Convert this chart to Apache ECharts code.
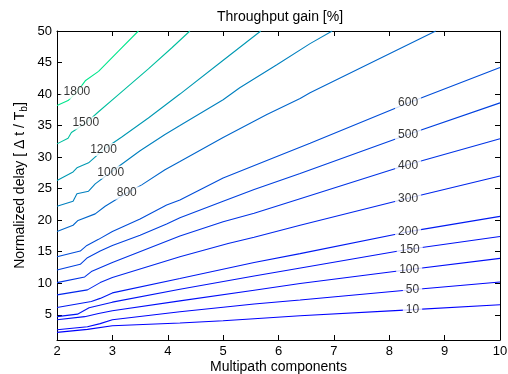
<!DOCTYPE html>
<html><head><meta charset="utf-8">
<script src="https://cdn.jsdelivr.net/npm/echarts@6/dist/echarts.min.js"></script>
<style>html,body{margin:0;padding:0;background:#fff}#c{width:508px;height:374px}</style>
</head><body><div id="c"></div>
<script>
// Contour levels (Throughput gain [%])
const levels = [10, 50, 100, 150, 200, 300, 400, 500, 600, 800, 1000, 1200, 1500, 1800];
// Contour lines: [multipath components, normalized delay]
const c10 = [[2,2.21],[2.55,2.69],[3.0,3.26],[4.22,3.69],[5.0,4.05],[5.56,4.37],[6.39,4.84],[8.27,5.74],[10,6.58]];
const c50 = [[2,2.63],[2.55,3.1],[2.78,3.6],[3.0,4.2],[4.22,5.47],[5.0,6.2],[5.56,6.7],[6.39,7.35],[8.3,8.9],[10,10.2]];
const c100 = [[2,4.2],[2.5,4.7],[2.75,5.2],[3.0,5.63],[4.22,7.2],[5.56,8.9],[6.39,9.95],[8.3,12.1],[10,13.95]];
const c150 = [[2,4.7],[2.37,5.1],[2.58,6.1],[3.0,7.0],[4.22,9.06],[5.56,11.15],[6.45,12.5],[8.3,15.3],[10,17.4]];
const c200 = [[2,6.15],[2.62,7.1],[2.78,7.6],[3.0,8.47],[4.22,10.75],[5.56,13.3],[6.39,14.7],[8.3,18.1],[10,20.6]];
const c300 = [[2,8.16],[2.55,8.95],[2.78,10.1],[3.0,10.9],[4.22,14.2],[5.09,16.3],[5.56,17.3],[6.39,19.2],[8.3,23.4],[10,27.0]];
const c400 = [[2,10.1],[2.5,11.0],[2.62,11.85],[3.0,13.3],[4.22,17.5],[5.0,19.75],[5.56,21.1],[6.39,23.4],[8.3,28.7],[10,32.9]];
const c500 = [[2,12.1],[2.42,13.0],[2.55,14.06],[2.78,15.1],[3.0,16.0],[3.5,17.6],[3.98,19.4],[4.22,20.4],[5.0,23.0],[5.56,24.85],[6.39,27.4],[8.34,33.6],[10,38.6]];
const c600 = [[2,14.2],[2.42,15.1],[2.54,16.0],[2.75,16.96],[3.0,18.2],[3.5,20.2],[3.98,22.4],[4.22,23.2],[5.0,26.7],[5.97,30.1],[6.57,32.2],[8.34,38.6],[10,44.2]];
const c800 = [[2,18.2],[2.29,19.2],[2.38,19.96],[2.69,21.0],[2.87,22.2],[3.26,24.3],[3.53,25.6],[3.95,28.0],[4.22,29.3],[5.0,33.1],[5.79,36.75],[6.39,39.3],[6.57,40.2],[8.84,50]];
const c1000 = [[2,22.2],[2.29,23.0],[2.36,24.2],[2.57,24.6],[2.69,25.75],[2.97,27.6],[3.5,31.0],[3.95,33.6],[4.22,35.0],[5.0,39.1],[5.3,41.0],[5.97,44.65],[6.57,48.0],[6.97,50]];
const c1200 = [[2,26.3],[2.29,27.65],[2.36,28.3],[2.57,29.1],[2.84,31.2],[3.17,33.2],[3.65,36.2],[4.22,40.0],[4.95,45.0],[5.68,50]];
const c1500 = [[2,32.1],[2.2,33.0],[2.26,33.9],[2.52,35.4],[2.75,37.2],[3.11,39.9],[3.65,44.0],[4.07,47.3],[4.4,50]];
const c1800 = [[2,38.2],[2.2,38.96],[2.36,40.3],[2.51,42.1],[2.75,43.6],[3.11,46.8],[3.47,50]];
const contours = [c10, c50, c100, c150, c200, c300, c400, c500, c600, c800, c1000, c1200, c1500, c1800];
// Inline contour label anchors [x, y]
const labelPos = [[8.42,5.74],[8.42,8.9],[8.36,12.1],[8.37,15.3],[8.34,18.1],[8.34,23.4],[8.34,28.7],[8.34,33.6],[8.34,38.6],[3.26,24.3],[2.97,27.6],[2.84,31.2],[2.52,35.4],[2.36,40.3]];
const xTicks = [2,3,4,5,6,7,8,9,10];
const yTicks = [5,10,15,20,25,30,35,40,45,50];

const FONT = 'Liberation Sans, Arial, Helvetica, sans-serif';
const cmax = 2000;
function winter(v){ const t = Math.min(1, v / cmax); return 'rgb(0,' + Math.round(255*t) + ',' + Math.round(255*(1 - t/2)) + ')'; }

const series = contours.map((d, i) => ({
  type: 'line', data: d, showSymbol: false, symbol: 'none', smooth: false,
  lineStyle: { width: 1.1, color: winter(levels[i]) }, z: 2, silent: true, animation: false
}));
series.push({
  type: 'scatter', symbolSize: 1, itemStyle: { color: 'rgba(0,0,0,0)' }, z: 5, animation: false,
  data: labelPos.map((p, i) => ({ value: p, name: String(levels[i]) })),
  label: { show: true, position: 'inside', formatter: p => p.name, color: '#000', fontSize: 12, fontFamily: FONT,
           backgroundColor: '#fff', padding: [1, 3, 0, 3] }
});

const axisCommon = {
  type: 'value', splitLine: { show: false },
  axisLine: { show: true, onZero: false, lineStyle: { color: '#000', width: 1 } },
  axisTick: { show: true, inside: true, length: 5, lineStyle: { color: '#000' } }
};
const chart = echarts.init(document.getElementById('c'), null, { renderer: 'canvas' });
chart.setOption({
  backgroundColor: '#fff',
  animation: false,
  title: { text: 'Throughput gain [%]', left: 212, top: 5, textStyle: { fontSize: 14, fontWeight: 'normal', color: '#000', fontFamily: FONT } },
  grid: { left: 57, right: 8, top: 31, bottom: 34, containLabel: false, outerBoundsMode: 'none' },
  xAxis: [
    Object.assign({}, axisCommon, { min: 2, max: 10, interval: 1, position: 'bottom',
      axisLabel: { color: '#000', fontSize: 13, margin: 5, fontFamily: FONT },
      name: 'Multipath components', nameLocation: 'middle', nameGap: 20, nameMoveOverlap: false,
      nameTextStyle: { color: '#000', fontSize: 14, fontFamily: FONT, verticalAlign: 'top', lineHeight: 14 } }),
    Object.assign({}, axisCommon, { min: 2, max: 10, interval: 1, position: 'top', axisLabel: { show: false } })
  ],
  yAxis: [
    Object.assign({}, axisCommon, { min: 1, max: 50, position: 'left',
      axisTick: { show: true, inside: true, length: 5, customValues: yTicks, lineStyle: { color: '#000' } },
      axisLabel: { color: '#000', fontSize: 13, margin: 5, fontFamily: FONT, customValues: yTicks },
      name: 'Normalized delay [ Δ t / T{sub|b}]', nameLocation: 'middle', nameGap: 28, nameMoveOverlap: false,
      nameTextStyle: { color: '#000', fontSize: 14, fontFamily: FONT,
        rich: { sub: { fontSize: 10, fontFamily: FONT, color: '#000', verticalAlign: 'bottom', padding: [8, 0, 0, 0] } } } }),
    Object.assign({}, axisCommon, { min: 1, max: 50, position: 'right',
      axisTick: { show: true, inside: true, length: 5, customValues: yTicks, lineStyle: { color: '#000' } },
      axisLabel: { show: false } })
  ],
  series: series
});
</script></body></html>
